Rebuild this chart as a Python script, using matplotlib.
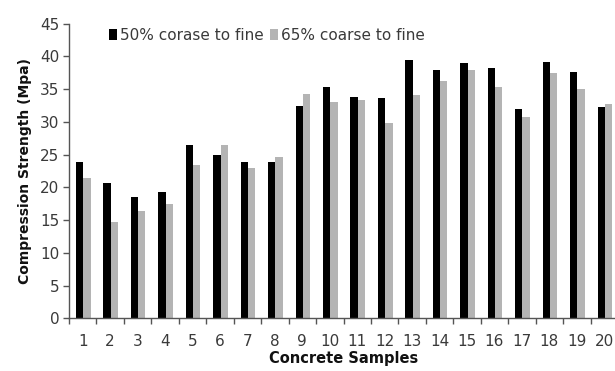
import matplotlib.pyplot as plt
import numpy as np

samples = [str(i) for i in range(1, 21)]
ratio_50 = [23.9, 20.6, 18.5, 19.3, 26.4, 24.9, 23.8, 23.9, 32.4, 35.3,
            33.8, 33.6, 39.4, 38.0, 39.0, 38.2, 31.9, 39.2, 37.6, 32.2]
ratio_65 = [21.5, 14.7, 16.4, 17.5, 23.4, 26.5, 22.9, 24.6, 34.2, 33.1,
            33.3, 29.8, 34.1, 36.2, 37.9, 35.3, 30.7, 37.5, 35.0, 32.8]

fig = plt.figure(figsize=(6.15, 3.71), dpi=100)
# axes runs a little past the right edge, like the cropped original
ax = fig.add_axes([69 / 615, 52.7 / 371, 549 / 615, 294.6 / 371])

x = np.arange(1, len(samples) + 1)
w = 0.266
ax.bar(x - w / 2 + 0.02, ratio_50, w, color='#000000', label='50% corase to fine')
ax.bar(x + w / 2 + 0.02, ratio_65, w, color='#b4b4b4', label='65% coarse to fine')

ax.set_xlim(0.5, 20.5)
ax.set_ylim(0, 45)
ax.set_yticks(range(0, 46, 5))
ax.set_xticks(x)
ax.set_xticklabels(samples)
ax.set_xticks(np.arange(0.5, 21, 1), minor=True)

for s in ['top', 'right']:
    ax.spines[s].set_visible(False)
for s in ['left', 'bottom']:
    ax.spines[s].set_color('#555555')
    ax.spines[s].set_linewidth(1.0)

ax.tick_params(axis='y', length=4, width=1, color='#555555', pad=3,
               labelsize=11, labelcolor='#3a3a3a')
ax.tick_params(axis='x', which='major', length=0, pad=11,
               labelsize=11, labelcolor='#3a3a3a')
ax.tick_params(axis='x', which='minor', length=4, width=1, color='#555555')

ax.set_xlabel('Concrete Samples', fontsize=10.5, fontweight='bold',
              color='#111111', labelpad=2)
ax.set_ylabel('Compression Strength (Mpa)', fontsize=10, fontweight='bold',
              color='#111111', labelpad=6)

ax.legend(loc='upper left', bbox_to_anchor=(0.072, 0.985), ncol=2,
          frameon=False, fontsize=11, handlelength=0.55, handleheight=0.7,
          handletextpad=0.2, columnspacing=0.4, borderpad=0,
          borderaxespad=0, labelcolor='#3a3a3a')

fig.savefig('out.png', dpi=100)
